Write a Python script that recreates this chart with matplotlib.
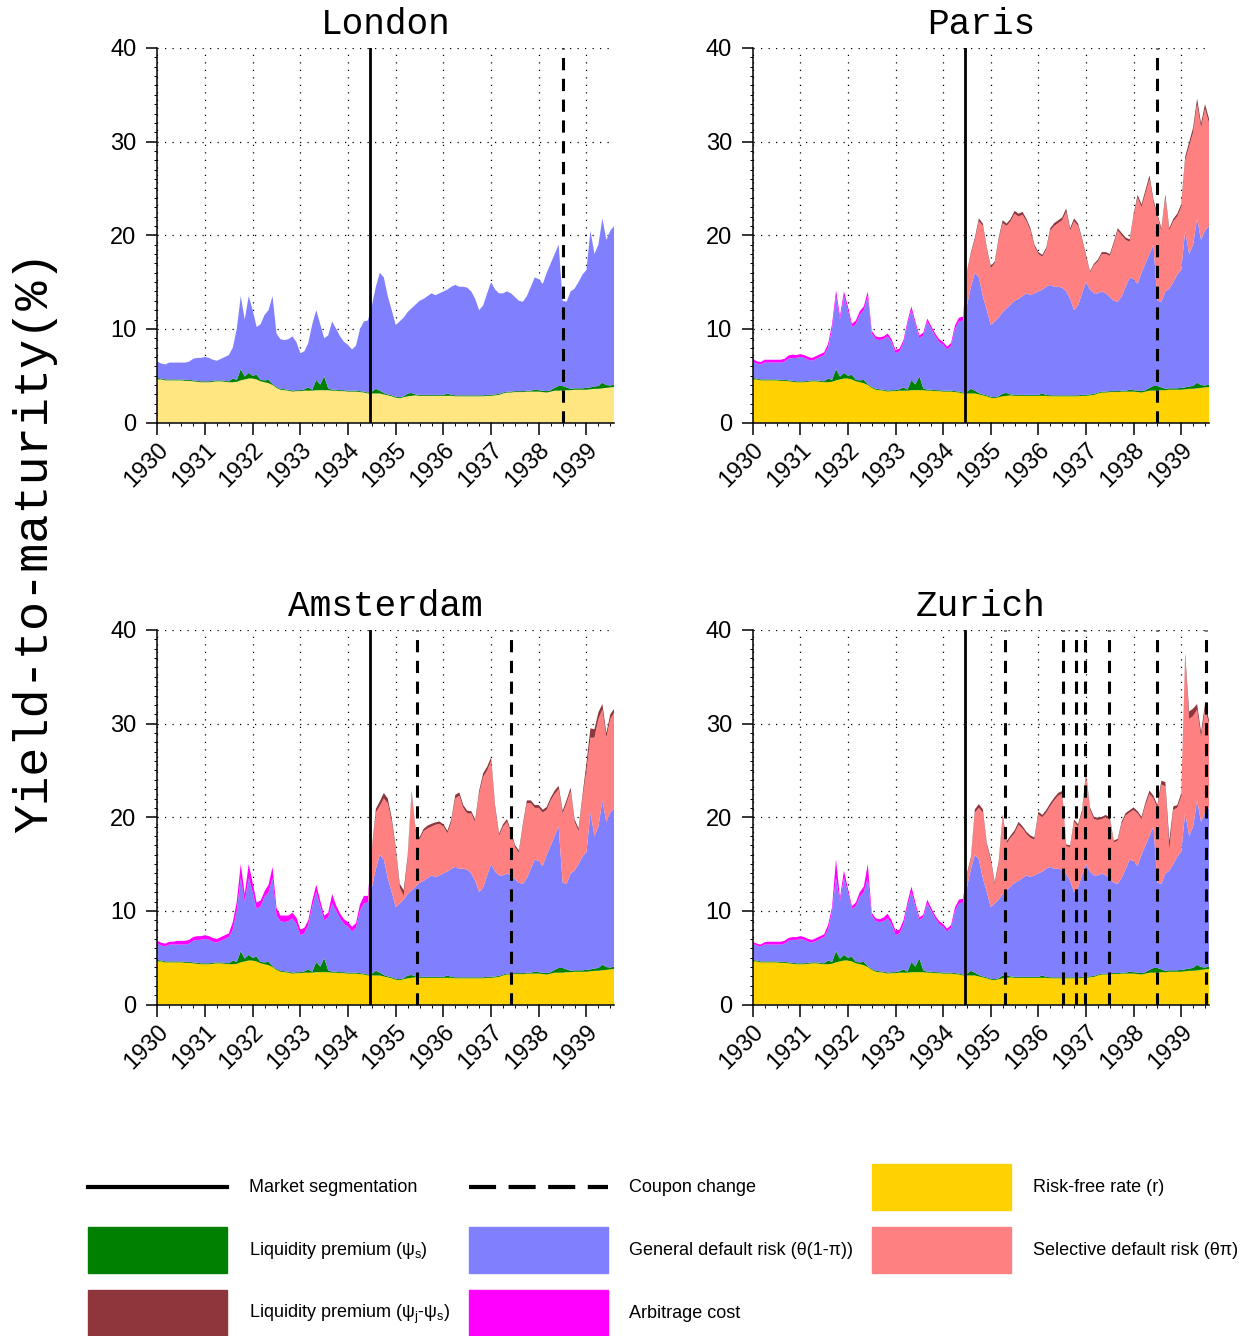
import numpy as np
import matplotlib
matplotlib.use("Agg")
import matplotlib.pyplot as plt
from matplotlib.lines import Line2D
from matplotlib.patches import Patch
from matplotlib.legend_handler import HandlerLine2D
from matplotlib.ticker import MultipleLocator

plt.rcParams['font.family'] = ['Liberation Sans', 'DejaVu Sans']
plt.rcParams['mathtext.fontset'] = 'custom'
plt.rcParams['mathtext.rm'] = 'Liberation Sans'
plt.rcParams['mathtext.it'] = 'Liberation Sans:italic'

# monthly observations, Jan 1930 .. Aug 1939
months = 1930 + np.arange(116) / 12
N_PRE = 54  # months before market segmentation (mid 1934)

# common components (% yield)
risk_free = [4.6, 4.6, 4.5, 4.5, 4.5, 4.5, 4.5, 4.45, 4.45, 4.4, 4.35, 4.3,
             4.3, 4.3, 4.35, 4.4, 4.4, 4.35, 4.3, 4.3, 4.35, 4.5, 4.6, 4.7,
             4.7, 4.6, 4.4, 4.3, 4.2, 4.0, 3.7, 3.5, 3.45, 3.4, 3.3, 3.35,
             3.35, 3.4, 3.4, 3.4, 3.45, 3.45, 3.45, 3.45, 3.4, 3.4, 3.35, 3.35,
             3.3, 3.3, 3.3, 3.25, 3.2, 3.1, 3.1, 3.1, 3.1, 3.0, 2.9, 2.8,
             2.65, 2.6, 2.7, 2.8, 2.85, 2.9, 2.85, 2.85, 2.85, 2.85, 2.85, 2.85,
             2.85, 2.85, 2.85, 2.8, 2.8, 2.8, 2.8, 2.8, 2.8, 2.8, 2.8, 2.85,
             2.85, 2.9, 2.95, 3.1, 3.2, 3.2, 3.25, 3.25, 3.25, 3.3, 3.3, 3.3,
             3.3, 3.25, 3.2, 3.3, 3.4, 3.4, 3.4, 3.45, 3.45, 3.5, 3.5, 3.5,
             3.5, 3.55, 3.6, 3.6, 3.65, 3.7, 3.75, 3.8]
liq_s = [0.15, 0.1, 0.1, 0.1, 0.1, 0.1, 0.1, 0.1, 0.1, 0.1, 0.1, 0.1,
         0.1, 0.1, 0.1, 0.1, 0.1, 0.1, 0.1, 0.4, 0.2, 1.2, 0.3, 0.6,
         0.3, 0.5, 0.15, 0.2, 0.35, 0.1, 0.1, 0.1, 0.1, 0.1, 0.1, 0.1,
         0.1, 0.15, 0.35, 0.1, 1.1, 0.6, 1.5, 0.2, 0.1, 0.1, 0.1, 0.1,
         0.1, 0.1, 0.1, 0.1, 0.1, 0.1, 0.2, 0.5, 0.3, 0.15, 0.1, 0.1,
         0.1, 0.1, 0.1, 0.3, 0.3, 0.1, 0.1, 0.1, 0.1, 0.1, 0.1, 0.1,
         0.1, 0.25, 0.1, 0.1, 0.1, 0.1, 0.1, 0.1, 0.1, 0.1, 0.1, 0.1,
         0.1, 0.1, 0.1, 0.1, 0.1, 0.1, 0.1, 0.1, 0.1, 0.1, 0.1, 0.2,
         0.15, 0.15, 0.15, 0.15, 0.3, 0.5, 0.5, 0.3, 0.15, 0.15, 0.15, 0.15,
         0.2, 0.2, 0.25, 0.3, 0.6, 0.3, 0.2, 0.25]
# top of the general default risk band
default_top = [6.5, 6.3, 6.2, 6.4, 6.4, 6.4, 6.4, 6.4, 6.5, 6.8, 6.9, 6.9,
               7.0, 6.9, 6.7, 6.6, 6.8, 7.0, 7.2, 8.0, 10.0, 13.5, 11.0, 13.5,
               12.0, 10.2, 10.5, 11.5, 12.0, 13.5, 9.5, 8.9, 8.8, 8.9, 9.2, 8.6,
               7.4, 7.6, 8.5, 10.5, 12.0, 10.5, 9.0, 9.3, 10.8, 10.0, 9.2, 8.6,
               8.3, 7.8, 8.2, 10.0, 10.8, 10.9, 12.5, 14.5, 16.0, 15.5, 13.5, 12.0,
               10.4, 10.8, 11.2, 11.8, 12.2, 12.6, 13.0, 13.2, 13.5, 13.8, 13.6, 13.8,
               14.0, 14.2, 14.5, 14.7, 14.5, 14.5, 14.4, 14.0, 13.2, 12.0, 12.5, 13.8,
               15.0, 14.2, 13.8, 13.8, 14.0, 13.8, 13.4, 13.0, 12.9, 13.5, 14.5, 15.5,
               15.3, 14.8, 16.0, 17.0, 18.0, 19.0, 13.0, 12.9, 14.0, 14.3, 15.0, 15.8,
               16.3, 20.5, 18.0, 19.0, 21.8, 19.5, 20.5, 21.0]

# city specific: top of selective default band (after segmentation)
paris_sel_top = [16.0, 18.0, 19.5, 21.5, 21.0, 18.5,
                 16.5, 17.0, 19.5, 21.3, 21.0, 21.5, 22.3, 22.0, 22.2, 21.5, 20.5, 18.8,
                 18.0, 17.7, 18.5, 20.5, 21.0, 21.3, 21.6, 22.5, 20.5, 21.5, 21.0, 19.5,
                 17.7, 16.0, 16.8, 17.2, 18.0, 18.0, 17.8, 19.0, 20.5, 20.0, 19.5, 19.3,
                 22.0, 24.0, 23.0, 24.5, 26.0, 23.5, 22.0, 20.5, 24.0, 20.5, 21.5, 22.0,
                 23.0, 28.0, 29.5, 31.0, 34.0, 31.5, 33.5, 32.0]
amsterdam_sel_top = [16.5, 20.5, 21.2, 22.0, 21.5, 19.5,
                     16.5, 12.5, 11.6, 15.5, 22.5, 18.5, 17.6, 18.5, 18.8, 19.0, 19.2, 19.3,
                     19.0, 18.3, 19.5, 22.0, 22.3, 21.0, 20.4, 20.4, 19.5, 22.5, 24.3, 25.0,
                     26.0, 21.0, 18.0, 19.0, 19.5, 18.3, 16.8, 16.2, 19.0, 21.5, 21.5, 21.0,
                     21.0, 20.5, 20.8, 21.8, 22.5, 23.0, 20.4, 21.5, 22.8, 19.5, 18.5, 22.0,
                     25.0, 28.5, 28.5, 30.5, 31.5, 28.5, 30.5, 31.2]
zurich_sel_top = [13.8, 15.5, 20.5, 21.0, 20.5, 17.0,
                  15.4, 12.8, 15.0, 20.0, 17.2, 17.8, 18.3, 19.2, 18.8, 18.2, 17.8, 17.6,
                  20.3, 20.0, 20.5, 21.2, 21.8, 22.3, 22.5, 16.9, 16.8, 19.5, 19.0, 20.5,
                  24.5, 20.8, 19.8, 19.7, 19.8, 20.0, 19.7, 17.3, 17.5, 19.3, 20.2, 20.5,
                  20.8, 20.4, 19.8, 21.3, 22.5, 22.0, 21.0, 23.5, 23.3, 16.5, 20.8, 21.0,
                  22.2, 37.0, 30.5, 30.8, 31.5, 28.5, 31.5, 30.0]

# liquidity premium psi_j - psi_s (after segmentation)
paris_liq_js = [0.15, 0.2, 0.25, 0.3, 0.25, 0.2,
                0.2, 0.2, 0.25, 0.3, 0.25, 0.25, 0.3, 0.3, 0.3, 0.25, 0.25, 0.2,
                0.2, 0.2, 0.2, 0.25, 0.3, 0.3, 0.3, 0.35, 0.25, 0.3, 0.25, 0.2,
                0.2, 0.15, 0.15, 0.2, 0.2, 0.2, 0.2, 0.25, 0.25, 0.25, 0.25, 0.25,
                0.25, 0.3, 0.3, 0.35, 0.4, 0.3, 0.25, 0.25, 0.35, 0.25, 0.25, 0.3,
                0.3, 0.4, 0.45, 0.5, 0.6, 0.45, 0.5, 0.45]
amsterdam_liq_js = [0.25, 0.4, 0.5, 0.6, 0.5, 0.4,
                    0.3, 0.4, 0.6, 0.4, 0.3, 0.25, 0.25, 0.25, 0.3, 0.3, 0.25, 0.25,
                    0.25, 0.25, 0.3, 0.4, 0.35, 0.3, 0.3, 0.25, 0.25, 0.35, 0.4, 0.4,
                    0.4, 0.3, 0.25, 0.25, 0.3, 0.25, 0.25, 0.25, 0.3, 0.3, 0.3, 0.3,
                    0.3, 0.3, 0.3, 0.3, 0.35, 0.35, 0.3, 0.35, 0.35, 0.3, 0.3, 0.4,
                    0.8, 1.0, 0.9, 0.7, 0.6, 0.5, 0.5, 0.4]
zurich_liq_js = [0.2, 0.25, 0.35, 0.4, 0.35, 0.25,
                 0.25, 0.25, 0.3, 0.3, 0.25, 0.25, 0.3, 0.3, 0.25, 0.25, 0.25, 0.25,
                 0.3, 0.25, 0.3, 0.3, 0.3, 0.3, 0.3, 0.2, 0.2, 0.25, 0.25, 0.25,
                 0.3, 0.25, 0.25, 0.25, 0.25, 0.25, 0.25, 0.2, 0.2, 0.25, 0.25, 0.25,
                 0.25, 0.25, 0.25, 0.3, 0.35, 0.3, 0.3, 0.4, 0.45, 1.0, 0.35, 0.3,
                 0.35, 0.5, 0.8, 0.8, 0.6, 0.6, 0.6, 0.4]

# arbitrage cost (before segmentation)
paris_arb = [0.3, 0.25, 0.25, 0.3, 0.3, 0.3, 0.3, 0.3, 0.3, 0.35, 0.35, 0.3,
             0.3, 0.3, 0.3, 0.3, 0.3, 0.3, 0.3, 0.4, 0.5, 0.6, 0.4, 0.5,
             0.4, 0.35, 0.4, 0.4, 0.4, 0.5, 0.3, 0.3, 0.3, 0.3, 0.3, 0.3,
             0.35, 0.3, 0.3, 0.3, 0.4, 0.3, 0.3, 0.3, 0.3, 0.3, 0.3, 0.3,
             0.3, 0.3, 0.3, 0.4, 0.4, 0.4]
amsterdam_arb = [0.3, 0.3, 0.3, 0.3, 0.3, 0.4, 0.4, 0.4, 0.4, 0.4, 0.4, 0.4,
                 0.4, 0.4, 0.4, 0.4, 0.4, 0.4, 0.4, 0.8, 1.0, 1.5, 0.8, 1.5,
                 1.0, 0.7, 0.6, 0.6, 0.8, 1.2, 0.8, 0.6, 0.7, 0.6, 0.6, 0.7,
                 0.6, 0.6, 0.5, 0.6, 0.8, 0.6, 0.5, 0.5, 1.0, 0.6, 0.5, 0.5,
                 0.5, 0.5, 0.5, 0.7, 0.8, 0.7]
zurich_arb = [0.2, 0.2, 0.2, 0.25, 0.3, 0.3, 0.3, 0.3, 0.3, 0.3, 0.3, 0.3,
              0.3, 0.3, 0.3, 0.3, 0.3, 0.3, 0.3, 0.5, 0.4, 2.0, 0.4, 0.8,
              0.4, 0.3, 0.4, 0.5, 0.6, 1.5, 0.3, 0.3, 0.3, 0.4, 0.5, 0.4,
              0.5, 0.4, 0.5, 0.4, 0.6, 0.4, 0.3, 0.3, 0.4, 0.3, 0.3, 0.3,
              0.3, 0.3, 0.3, 0.4, 0.4, 0.4]

segmentation_date = 1934.46
coupon_changes = {
    "London": [1938.5],
    "Paris": [1938.5],
    "Amsterdam": [1935.45, 1937.42],
    "Zurich": [1935.29, 1936.51, 1936.79, 1936.98, 1937.49, 1938.5, 1939.52],
}

C_RF = '#FFD200'
C_RF_LONDON = '#FFE680'
C_LIQ = '#008000'
C_GEN = '#8080FF'
C_SEL = '#FF8080'
C_LJS = '#8F353C'
C_ARB = '#FF00FF'

rf = np.array(risk_free)
liq = np.array(liq_s)
gen = np.array(default_top) - rf - liq

fig = plt.figure(figsize=(12.49, 13.36), dpi=100)

W, H = 1249, 1336
def add_axes(left, right, top, bottom):
    return fig.add_axes([left / W, 1 - bottom / H, (right - left) / W, (bottom - top) / H])

axes = {
    "London": add_axes(157.3, 614.3, 48, 422.5),
    "Paris": add_axes(752.7, 1209, 48, 422.5),
    "Amsterdam": add_axes(157.3, 614.3, 630, 1004.5),
    "Zurich": add_axes(752.7, 1209, 630, 1004.5),
}

city_data = {
    "Paris": (paris_sel_top, paris_liq_js, paris_arb),
    "Amsterdam": (amsterdam_sel_top, amsterdam_liq_js, amsterdam_arb),
    "Zurich": (zurich_sel_top, zurich_liq_js, zurich_arb),
}

for city, ax in axes.items():
    if city == "London":
        ax.stackplot(months, rf, liq, gen, colors=[C_RF_LONDON, C_LIQ, C_GEN], lw=0)
    else:
        sel_top, ljs, arb = city_data[city]
        sel = np.concatenate([np.zeros(N_PRE), np.array(sel_top) - np.array(default_top[N_PRE:])])
        sel = np.clip(sel, 0, None)
        ljs_full = np.concatenate([np.zeros(N_PRE), ljs])
        arb_full = np.concatenate([arb, np.zeros(len(months) - N_PRE)])
        ax.stackplot(months, rf, liq, gen, sel, ljs_full, arb_full,
                     colors=[C_RF, C_LIQ, C_GEN, C_SEL, C_LJS, C_ARB], lw=0)

    ax.axvline(segmentation_date, color='k', lw=2)
    for d in coupon_changes[city]:
        ax.axvline(d, color='k', lw=2.2, ls=(0, (4, 2.8)))

    ax.set_xlim(1930, months[-1])
    ax.set_ylim(0, 40)
    ax.set_xticks(range(1930, 1940))
    ax.set_yticks(range(0, 41, 10))
    ax.xaxis.set_minor_locator(MultipleLocator(0.25))
    ax.yaxis.set_minor_locator(MultipleLocator(1))
    ax.set_xticklabels([str(y) for y in range(1930, 1940)], rotation=45,
                       ha='right', rotation_mode='anchor')
    ax.tick_params(axis='both', which='major', labelsize=17, width=1.1, direction='out')
    ax.tick_params(axis='y', which='major', length=8, pad=7)
    ax.tick_params(axis='x', which='major', length=8.5, pad=3)
    ax.tick_params(axis='both', which='minor', length=2, width=0.7)
    for s in ['top', 'right']:
        ax.spines[s].set_visible(False)
    for s in ['left', 'bottom']:
        ax.spines[s].set_linewidth(1.1)
    ax.grid(True, which='major', ls=(0, (1, 5)), color='k', lw=0.9)
    ax.set_axisbelow(True)
    ax.set_title(city, family='Liberation Mono', fontsize=26, pad=10)

fig.text(35 / W, 1 - 542 / H, 'Yield-to-maturity(%)', rotation=90,
         family='Liberation Mono', fontsize=35, ha='center', va='center')


class CenteredLine(HandlerLine2D):
    # keep the line in the middle of the (tall) handle box, level with the patches
    def create_artists(self, legend, orig_handle, xdescent, ydescent,
                       width, height, fontsize, trans):
        artists = super().create_artists(legend, orig_handle, xdescent, ydescent,
                                         width, height, fontsize, trans)
        for a in artists:
            a.set_ydata(np.full_like(np.asarray(a.get_xdata(), float), height / 2 - ydescent))
        return artists


seg_handle = Line2D([], [], color='k', lw=3)
coupon_handle = Line2D([], [], color='k', lw=3, ls=(0, (6.5, 3)))
handles = [
    seg_handle,
    Patch(color=C_LIQ),
    Patch(color=C_LJS),
    coupon_handle,
    Patch(color=C_GEN),
    Patch(color=C_ARB),
    Patch(color=C_RF),
    Patch(color=C_SEL),
]
labels = [
    'Market segmentation',
    'Liquidity premium (ψ$_\\mathrm{s}$)',
    'Liquidity premium (ψ$_\\mathrm{j}$-ψ$_\\mathrm{s}$)',
    'Coupon change',
    'General default risk (θ(1-π))',
    'Arbitrage cost',
    'Risk-free rate (r)',
    'Selective default risk (θπ)',
]
fig.legend(handles, labels, ncol=3, loc='upper left',
           bbox_to_anchor=(88 / W, 1 - 1164 / H), frameon=False, fontsize=13,
           handlelength=7.7, handleheight=3.55, handletextpad=1.2,
           columnspacing=1.05, labelspacing=0.94, borderpad=0, borderaxespad=0,
           handler_map={seg_handle: CenteredLine(), coupon_handle: CenteredLine()})

fig.savefig('out.png', dpi=100)
